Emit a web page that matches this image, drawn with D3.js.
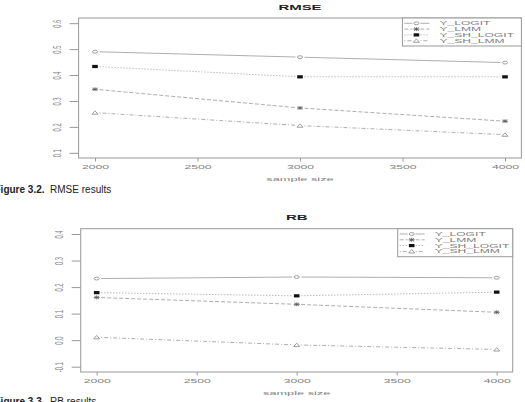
<!DOCTYPE html>
<html>
<head>
<meta charset="utf-8">
<script src="https://cdn.jsdelivr.net/npm/d3@7"></script>
<style>
  body { margin: 0; background: #fff; }
  svg { display: block; }
</style>
</head>
<body>
<div id="chart"></div>
<script>
// Data
const sampleSizes = [2000, 3000, 4000];
const xTicks = [2000, 2500, 3000, 3500, 4000];
const seriesNames = ["Y_LOGIT", "Y_LMM", "Y_SH_LOGIT", "Y_SH_LMM"];

const rmseLogit   = [0.490, 0.469, 0.448];
const rmseLmm     = [0.345, 0.273, 0.222];
const rmseShLogit = [0.433, 0.393, 0.393];
const rmseShLmm   = [0.255, 0.205, 0.170];
const rmseTicks   = [0.1, 0.2, 0.3, 0.4, 0.5, 0.6];

const rbLogit   = [0.232, 0.238, 0.235];
const rbLmm     = [0.161, 0.135, 0.105];
const rbShLogit = [0.179, 0.167, 0.181];
const rbShLmm   = [0.011, -0.018, -0.035];
const rbTicks   = [-0.1, 0.0, 0.1, 0.2, 0.3, 0.4];

const width = 525, height = 402;
const grey = "#999";
const textGrey = "#808080";

const svg = d3.select("#chart")
              .append("svg")
              .attr("width", width)
              .attr("height", height);

// line style + marker per series
const styles = [
  { dash: null,      marker: "circle" },
  { dash: "4,2",     marker: "star" },
  { dash: "1.2,1.8", marker: "square" },
  { dash: "1,2,4,2", marker: "triangle" }
];

// the R text in the picture is squeezed vertically, so widen it
function stretch(sel, k) {
  sel.each(function() {
    const w = this.getComputedTextLength();
    d3.select(this).attr("textLength", w * k).attr("lengthAdjust", "spacingAndGlyphs");
  });
}

function drawMarker(g, type, x, y) {
  if (type === "circle") {
    g.append("ellipse").attr("cx", x).attr("cy", y).attr("rx", 2.6).attr("ry", 1.4)
     .attr("fill", "none").attr("stroke", "#888").attr("stroke-width", 0.8);
  } else if (type === "star") {
    g.append("path")
     .attr("d", `M${x-3},${y}H${x+3}M${x},${y-2}V${y+2}M${x-2.4},${y-1.5}L${x+2.4},${y+1.5}M${x-2.4},${y+1.5}L${x+2.4},${y-1.5}`)
     .attr("stroke", "#555").attr("stroke-width", 0.8).attr("fill", "none");
  } else if (type === "square") {
    g.append("rect").attr("x", x - 2.8).attr("y", y - 1.6).attr("width", 5.6).attr("height", 3.2)
     .attr("fill", "#111");
  } else {
    g.append("path")
     .attr("d", `M${x-3},${y+1.6}L${x},${y-1.8}L${x+3},${y+1.6}Z`)
     .attr("fill", "none").attr("stroke", "#888").attr("stroke-width", 0.8);
  }
}

function drawPanel(p) {
  const g = svg.append("g");
  const lo = p.yTicks[0], hi = p.yTicks[p.yTicks.length - 1];
  const ext = (hi - lo) * 0.04;

  const x = d3.scaleLinear().domain([1920, 4080]).range([p.left, p.right]);
  const y = d3.scaleLinear().domain([lo - ext, hi + ext]).range([p.bottom, p.top]);

  // box
  g.append("rect")
   .attr("x", p.left).attr("y", p.top)
   .attr("width", p.right - p.left).attr("height", p.bottom - p.top)
   .attr("fill", "none").attr("stroke", grey).attr("stroke-width", 1);

  // x axis
  const xa = g.append("g")
              .attr("transform", `translate(0,${p.bottom})`)
              .call(d3.axisBottom(x).tickValues(xTicks).tickSize(3.5).tickFormat(d3.format("d")));
  xa.select(".domain").remove();
  xa.selectAll("line").attr("stroke", grey);
  xa.selectAll("text").attr("fill", textGrey).style("font-family", "Liberation Sans, Arial, sans-serif")
    .style("font-size", "5.8px").attr("dy", null).attr("y", 11);
  stretch(xa.selectAll("text"), 2.1);

  // y axis, labels parallel to the axis
  const ya = g.append("g")
              .attr("transform", `translate(${p.left},0)`)
              .call(d3.axisLeft(y).tickValues(p.yTicks).tickSize(9)
                      .tickFormat(d => d3.format(".1f")(d).replace("\u2212", "-")));
  ya.select(".domain").remove();
  ya.selectAll("line").attr("stroke", grey);
  ya.selectAll("text")
    .attr("fill", textGrey).style("font-family", "Liberation Sans, Arial, sans-serif")
    .style("font-size", "5.8px")
    .attr("text-anchor", "middle").attr("x", null).attr("dy", null)
    .attr("transform", `translate(-21.5,0) scale(1.9,1) rotate(-90)`)
    .attr("y", 2);

  // title
  const t = g.append("text")
   .attr("x", (p.left + p.right) / 2).attr("y", p.top - 8.5)
   .attr("text-anchor", "middle")
   .style("font-family", "Liberation Sans, Arial, sans-serif")
   .style("font-size", "6.5px").style("font-weight", "bold").attr("fill", "#222")
   .text(p.title);
  stretch(t, 2.3);

  const xl = g.append("text")
   .attr("x", (p.left + p.right) / 2).attr("y", p.bottom + 22.5)
   .attr("text-anchor", "middle")
   .style("font-family", "Liberation Sans, Arial, sans-serif")
   .style("font-size", "5.8px").attr("fill", textGrey)
   .text("sample size");
  stretch(xl, 2.2);

  // series: segments with gaps at the points (type = "b")
  p.series.forEach((vals, i) => {
    const st = styles[i];
    const pts = vals.map((v, j) => [x(sampleSizes[j]), y(v)]);
    for (let j = 0; j < pts.length - 1; j++) {
      const [x0, y0] = pts[j], [x1, y1] = pts[j + 1];
      const len = Math.hypot(x1 - x0, y1 - y0), gap = 4.5;
      const ux = (x1 - x0) / len, uy = (y1 - y0) / len;
      g.append("line")
       .attr("x1", x0 + ux * gap).attr("y1", y0 + uy * gap)
       .attr("x2", x1 - ux * gap).attr("y2", y1 - uy * gap)
       .attr("stroke", grey).attr("stroke-width", 0.8)
       .attr("stroke-dasharray", st.dash);
    }
    pts.forEach(([px, py]) => drawMarker(g, st.marker, px, py));
  });

  // legend (topright)
  const lw = p.legendWidth, lh = 28;
  const lx = p.right - lw, ly = p.top;
  const lg = g.append("g");
  lg.append("rect").attr("x", lx).attr("y", ly).attr("width", lw).attr("height", lh)
    .attr("fill", "#fff").attr("stroke", grey).attr("stroke-width", 1);
  seriesNames.forEach((name, i) => {
    const yy = ly + 5.3 + i * 5.8;
    lg.append("line").attr("x1", lx + 2).attr("x2", lx + 10).attr("y1", yy).attr("y2", yy)
      .attr("stroke", grey).attr("stroke-width", 0.8).attr("stroke-dasharray", styles[i].dash);
    lg.append("line").attr("x1", lx + 18).attr("x2", lx + 27).attr("y1", yy).attr("y2", yy)
      .attr("stroke", grey).attr("stroke-width", 0.8).attr("stroke-dasharray", styles[i].dash);
    drawMarker(lg, styles[i].marker, lx + 14, yy);
    const tx = lg.append("text").attr("x", lx + 37).attr("y", yy + 2)
      .style("font-family", "Liberation Sans, Arial, sans-serif")
      .style("font-size", "5.5px").attr("fill", textGrey)
      .text(name);
    stretch(tx, 2.2);
  });
}

drawPanel({
  title: "RMSE", yTicks: rmseTicks,
  series: [rmseLogit, rmseLmm, rmseShLogit, rmseShLmm],
  left: 78.6, right: 521.4, top: 18, bottom: 158, legendWidth: 119
});

drawPanel({
  title: "RB", yTicks: rbTicks,
  series: [rbLogit, rbLmm, rbShLogit, rbShLmm],
  left: 80.7, right: 512.7, top: 228.7, bottom: 372, legendWidth: 115
});

// figure captions (the page crops them on the left, as in the source)
function caption(yPos, num, rest) {
  const c = svg.append("text").attr("x", -5.5).attr("y", yPos)
    .style("font-family", "Liberation Sans, Arial, sans-serif")
    .style("font-size", "10px").attr("fill", "#222");
  c.append("tspan").style("font-weight", "bold").text(num);
  c.append("tspan").text("\u00a0\u00a0" + rest);
}
caption(192.5, "Figure 3.2.", "RMSE results");
caption(405, "Figure 3.3.", "RB results");
</script>
</body>
</html>
